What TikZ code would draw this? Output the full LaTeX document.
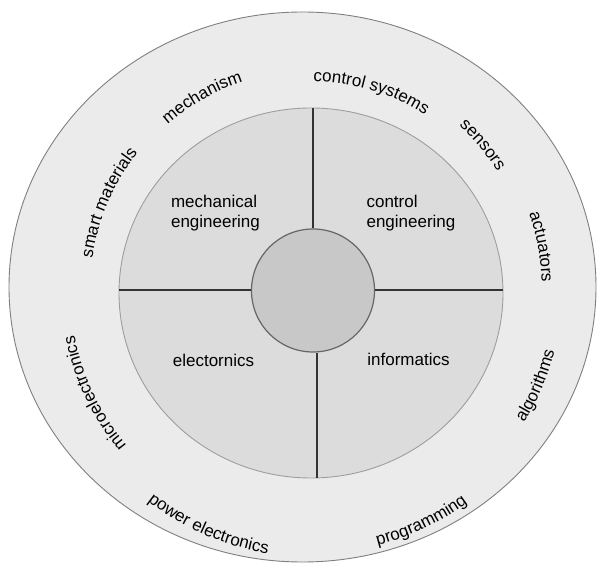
\documentclass[tikz,border=0pt]{standalone}
\usepackage{fontspec}
\setmainfont{Liberation Sans}
\usetikzlibrary{shapes.geometric,decorations.text}
\definecolor{ringgray}{HTML}{EBEBEB}
\definecolor{innergray}{HTML}{DCDCDC}
\definecolor{hubgray}{HTML}{C8C8C8}
\newcommand{\ringfont}{\fontsize{17}{20.5}\selectfont}
% clockwise text (tops outward): text, angle, baseline radius
\newcommand{\cwlabel}[3]{\path[decorate,decoration={text along path,text align=center,text={|\ringfont|#1}}]
  (311,275) ++(#2+50:#3pt) arc[start angle=#2+50,end angle=#2-50,radius=#3pt];}
% counter-clockwise text (tops inward)
\newcommand{\ccwlabel}[3]{\path[decorate,decoration={text along path,text align=center,text={|\ringfont|#1}}]
  (311,275) ++(#2-50:#3pt) arc[start angle=#2-50,end angle=#2+50,radius=#3pt];}
\begin{document}
\begin{tikzpicture}[x=1pt,y=1pt,
  ring/.style={ellipse, inner sep=0pt, line width=0.9pt},
  divider/.style={draw=black!80, line width=2pt},
  lbl/.style={font=\ringfont, align=left, inner sep=0pt}]
\useasboundingbox (0,0) rectangle (597,565);
\fill[white] (0,0) rectangle (597,565);
\node[ring, draw=black!50, fill=ringgray, minimum width=587pt, minimum height=550pt] (outer) at (302.5,278) {};
\node[ring, draw=black!38, fill=innergray, minimum width=384pt, minimum height=370pt] (inner) at (311,272) {};
\node[circle, draw=black!60, line width=1.2pt, fill=hubgray, minimum size=123pt, inner sep=0pt] (hub) at (313,274.5) {};
\draw[divider] (hub.west) -- (hub.west -| inner.west);
\draw[divider] (hub.east) -- (hub.east -| inner.east);
\draw[divider] (hub.north) -- (hub.north |- inner.north);
\draw[divider] ([xshift=4pt]hub.south) -- ([xshift=4pt]hub.south |- inner.south);
\node[lbl] (mecheng) at (215.5,352) {mechanical\\engineering};
\node[lbl] (ctrleng) at (411,352) {control\\engineering};
\node[lbl] (elec) at (213.5,205) {electornics};
\node[lbl] (info) at (408.5,206) {informatics};
\cwlabel{mechanism}{119.5}{219}
\cwlabel{control systems}{73.1}{208.6}
\cwlabel{sensors}{40.2}{221}
\cwlabel{actuators}{10.6}{231}
\cwlabel{smart materials}{156.7}{221}
\cwlabel{microelectronics}{205.5}{241}
\ccwlabel{algorithms}{-23}{251}
\ccwlabel{programming}{-64.5}{264}
\ccwlabel{power electronics}{246.5}{267}
\end{tikzpicture}
\end{document}
